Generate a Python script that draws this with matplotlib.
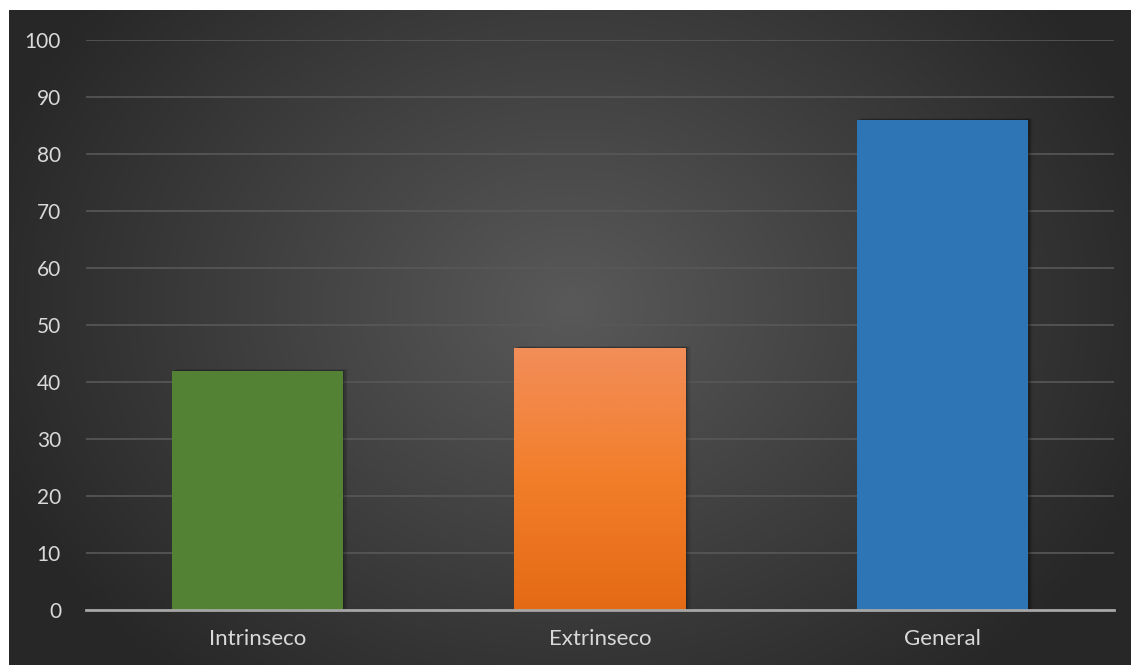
import numpy as np
import matplotlib
matplotlib.use("Agg")
import matplotlib.pyplot as plt
from matplotlib.colors import LinearSegmentedColormap

categories = ["Intrinseco", "Extrinseco", "General"]
values = [42, 46, 86]
colors = ["#548235", "#F07B2A", "#2E75B6"]
y_ticks = [0, 10, 20, 30, 40, 50, 60, 70, 80, 90, 100]

W, H = 1131, 665
fig = plt.figure(figsize=(W / 100, H / 100), dpi=100)
fig.patch.set_facecolor("white")

# background radial gradient panel
bg = fig.add_axes([9 / W, 0, 1 - 9 / W, 1 - 10 / H])
bg.set_axis_off()
ny, nx = 300, 500
yy, xx = np.mgrid[0:ny, 0:nx]
cx, cy = nx * 0.5, ny * 0.45
r = np.sqrt(((xx - cx) / (nx * 0.55)) ** 2 + ((yy - cy) / (ny * 0.75)) ** 2)
r = np.clip(r, 0, 1)
cmap_bg = LinearSegmentedColormap.from_list("bg", ["#595959", "#404040", "#272727"])
bg.imshow(r, cmap=cmap_bg, aspect="auto", extent=[0, 1, 0, 1], vmin=0, vmax=1)
bg.set_xlim(0, 1)
bg.set_ylim(0, 1)

ax = fig.add_axes([86 / W, (H - 610) / H, (1114 - 86) / W, (610 - 40) / H])
ax.patch.set_alpha(0)
x = np.arange(len(categories))
bars = ax.bar(x, values, width=0.5, color=colors, zorder=3)

# soft shadows to the right
for xi, v in zip(x, values):
    for k, a in zip(range(1, 5), [0.16, 0.11, 0.07, 0.04]):
        ax.add_patch(plt.Rectangle((xi - 0.25 + 0.004 * k, 0), 0.5, v + 0.08 * k,
                                   color="black", alpha=a, zorder=2, lw=0))

# gradient on orange bar
orange = bars[1]
grad = np.linspace(0, 1, 256).reshape(-1, 1)
cmap_or = LinearSegmentedColormap.from_list("or", ["#E56A15", "#F27E2A", "#F28E5A"])
im = ax.imshow(grad, cmap=cmap_or, aspect="auto", origin="lower",
               extent=[x[1] - 0.25, x[1] + 0.25, 0, values[1]], zorder=4)
im.set_clip_path(orange)

ax.set_xlim(-0.5, 2.5)
ax.set_ylim(0, 100)
ax.set_yticks(y_ticks)
ax.set_xticks(x)
ax.set_xticklabels(categories)
ax.grid(axis="y", color="#585858", lw=1.2, zorder=0)
for s in ["top", "right", "left"]:
    ax.spines[s].set_visible(False)
ax.spines["bottom"].set_color("#a6a6a6")
ax.spines["bottom"].set_linewidth(2)
ax.spines["bottom"].set_zorder(5)
ax.tick_params(axis="both", length=0, colors="#d9d9d9", labelsize=15)
ax.tick_params(axis="x", labelsize=16)
ax.tick_params(axis="y", pad=18)
ax.tick_params(axis="x", pad=14)
for lab in ax.get_xticklabels() + ax.get_yticklabels():
    lab.set_family(["Lato", "DejaVu Sans"])
ax.set_axisbelow(True)

fig.savefig("out.png", dpi=100, facecolor=fig.get_facecolor())
